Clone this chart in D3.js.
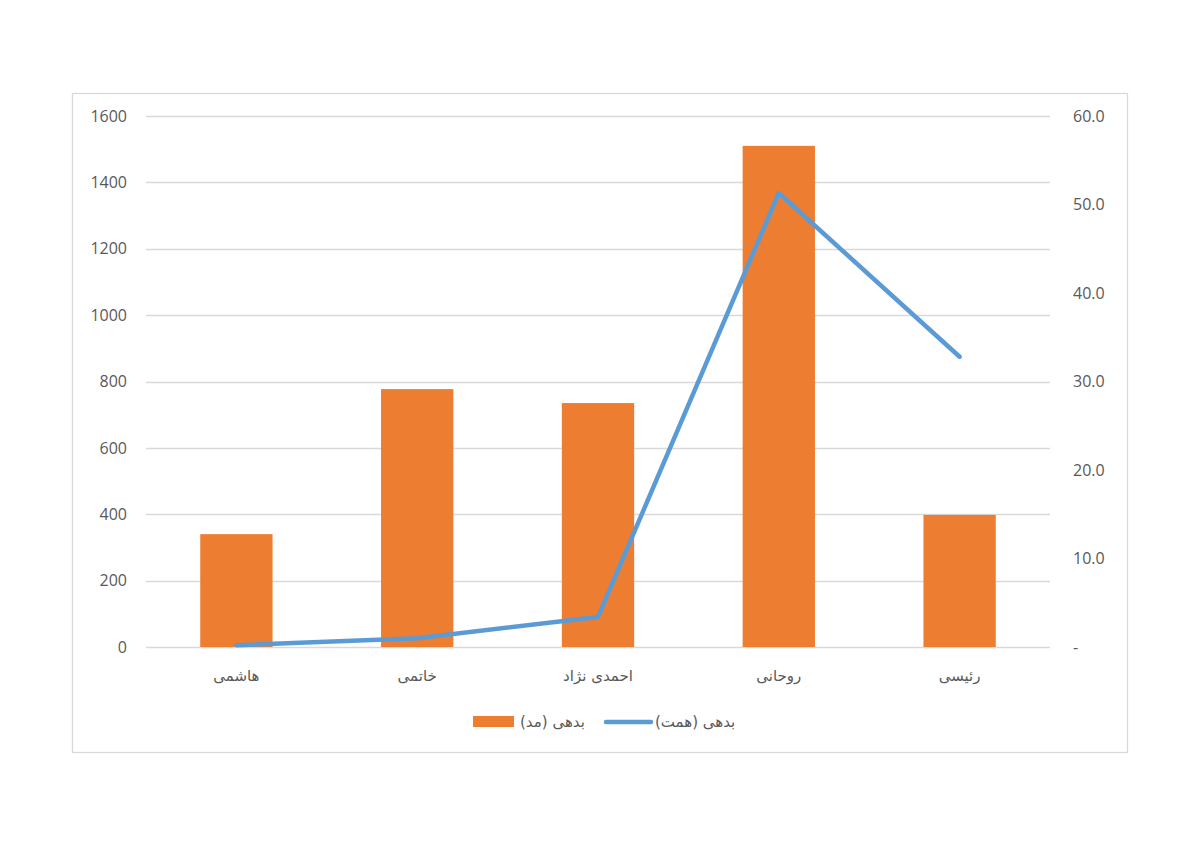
<!DOCTYPE html>
<html><head><meta charset="utf-8">
<script src="https://cdn.jsdelivr.net/npm/d3@7"></script>
<style>body{margin:0;background:#fff}</style>
</head><body><svg id="c" width="1200" height="848"></svg>
<script>
const categories = ["هاشمی","خاتمی","احمدی نژاد","روحانی","رئیسی"];
const barValues = [340, 777, 735, 1510, 398];
const lineValues = [0.2, 1.0, 3.4, 51.3, 32.8];
const leftTicks = [0,200,400,600,800,1000,1200,1400,1600];
const rightTicks = [0,10,20,30,40,50,60];
const seriesNames = ["بدهی (مد)","بدهی (همت)"];

const svg = d3.select("#c");
const L=146,R=1050,T=116,B=647;
const numFont = "'Open Sans', 'Liberation Sans', sans-serif";
const arFont = "'DejaVu Sans', sans-serif";
const textCol = "#595959";

svg.append("rect").attr("x",72.5).attr("y",93.5).attr("width",1055).attr("height",659)
  .attr("fill","#fff").attr("stroke","#d9d9d9").attr("stroke-width",1.3);

const x = d3.scaleBand().domain(categories).range([L,R]).paddingInner(0.6).paddingOuter(0.3);
const yL = d3.scaleLinear().domain([0,1600]).range([B,T]);
const yR = d3.scaleLinear().domain([0,60]).range([B,T]);

// gridlines
svg.append("g").selectAll("line").data(leftTicks).join("line")
  .attr("x1",L).attr("x2",R).attr("y1",d=>Math.round(yL(d))+0.5).attr("y2",d=>Math.round(yL(d))+0.5)
  .attr("stroke","#d9d9d9").attr("stroke-width",1.3);

// left axis
const la = svg.append("g").attr("transform",`translate(${L},0)`)
  .call(d3.axisLeft(yL).tickValues(leftTicks).tickSize(0).tickPadding(19).tickFormat(d3.format("d")));
la.select(".domain").remove();
la.selectAll("text").attr("font-family",numFont).attr("font-size",16).attr("fill",textCol);

// right axis
const ra = svg.append("g").attr("transform",`translate(${R},0)`)
  .call(d3.axisRight(yR).tickValues(rightTicks).tickSize(0).tickPadding(23)
    .tickFormat(d=> d===0 ? "-" : d3.format(".1f")(d)));
ra.select(".domain").remove();
ra.selectAll("text").attr("font-family",numFont).attr("font-size",16).attr("fill",textCol);

// bars
svg.append("g").selectAll("rect").data(barValues).join("rect")
  .attr("x",(d,i)=>x(categories[i])).attr("width",x.bandwidth())
  .attr("y",d=>yL(d)).attr("height",d=>B-yL(d)).attr("fill","#ed7d31");

// line
const cx = i => x(categories[i]) + x.bandwidth()/2;
svg.append("path").datum(lineValues)
  .attr("d", d3.line().x((d,i)=>cx(i)).y(d=>yR(d)))
  .attr("fill","none").attr("stroke","#5b9bd5").attr("stroke-width",4.5)
  .attr("stroke-linejoin","round").attr("stroke-linecap","round");

// x labels
svg.append("g").selectAll("text").data(categories).join("text")
  .attr("x",(d,i)=>cx(i)).attr("y",681).attr("text-anchor","middle")
  .attr("font-family",arFont).attr("font-size",15).attr("fill",textCol).text(d=>d);

// legend
const lg = svg.append("g");
lg.append("rect").attr("x",473).attr("y",716).attr("width",41).attr("height",11).attr("fill","#ed7d31");
lg.append("text").attr("x",520).attr("y",727).attr("font-family",arFont).attr("font-size",15)
  .attr("fill",textCol).attr("text-anchor","start")
  .text(seriesNames[0]);
lg.append("line").attr("x1",606).attr("x2",651).attr("y1",722).attr("y2",722)
  .attr("stroke","#5b9bd5").attr("stroke-width",4.5).attr("stroke-linecap","round");
lg.append("text").attr("x",655).attr("y",727).attr("font-family",arFont).attr("font-size",15)
  .attr("fill",textCol).text(seriesNames[1]);
</script></body></html>
